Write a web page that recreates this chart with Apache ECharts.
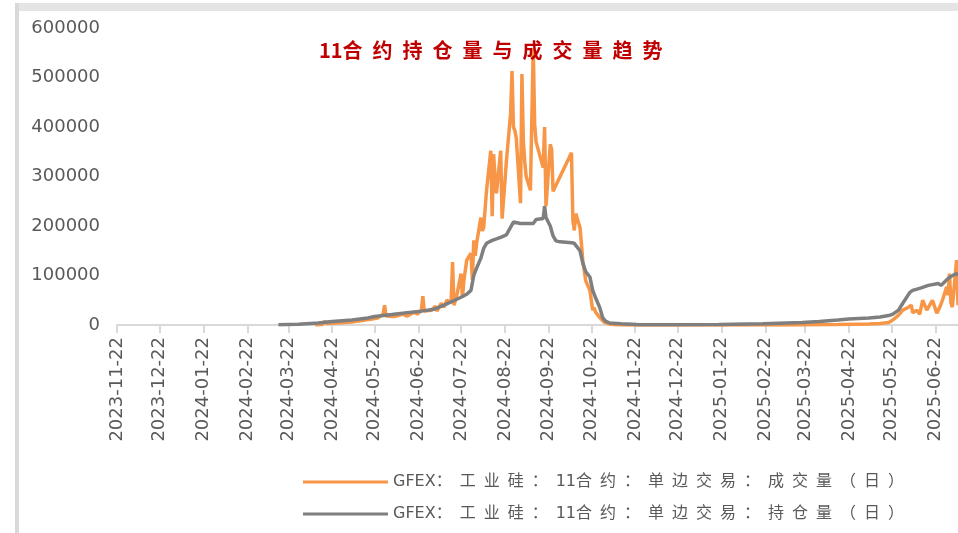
<!DOCTYPE html>
<html>
<head>
<meta charset="utf-8">
<script src="https://cdn.jsdelivr.net/npm/echarts@6/dist/echarts.min.js"></script>
<style>
  html, body { margin: 0; padding: 0; background: #fff; }
  #main { width: 958px; height: 533px; }
</style>
</head>
<body>
<div id="main"></div>
<script>
// 月度刻度（每月22日）
var tickDates = ['2023-11-22', '2023-12-22', '2024-01-22', '2024-02-22', '2024-03-22', '2024-04-22',
  '2024-05-22', '2024-06-22', '2024-07-22', '2024-08-22', '2024-09-22', '2024-10-22', '2024-11-22',
  '2024-12-22', '2025-01-22', '2025-02-22', '2025-03-22', '2025-04-22', '2025-05-22', '2025-06-22'];

var seriesNames = ['GFEX：工业硅：11合约：单边交易：成交量（日）', 'GFEX：工业硅：11合约：单边交易：持仓量（日）'];

// 成交量
var volDates = ['2024-04-10', '2024-04-15', '2024-04-17', '2024-04-18', '2024-04-25', '2024-05-06', '2024-05-13',
  '2024-05-20', '2024-05-24', '2024-05-28', '2024-05-29', '2024-05-30', '2024-06-05', '2024-06-11',
  '2024-06-14', '2024-06-19', '2024-06-21', '2024-06-24', '2024-06-25', '2024-06-26', '2024-07-01',
  '2024-07-04', '2024-07-05', '2024-07-08', '2024-07-10', '2024-07-12', '2024-07-15', '2024-07-16',
  '2024-07-17', '2024-07-18', '2024-07-19', '2024-07-22', '2024-07-23', '2024-07-24', '2024-07-25',
  '2024-07-26', '2024-07-29', '2024-07-30', '2024-07-31', '2024-08-01', '2024-08-02', '2024-08-05',
  '2024-08-06', '2024-08-07', '2024-08-08', '2024-08-09', '2024-08-12', '2024-08-13', '2024-08-14',
  '2024-08-15', '2024-08-16', '2024-08-19', '2024-08-20', '2024-08-21', '2024-08-22', '2024-08-23',
  '2024-08-26', '2024-08-27', '2024-08-28', '2024-08-29', '2024-08-30', '2024-09-02', '2024-09-03',
  '2024-09-04', '2024-09-05', '2024-09-06', '2024-09-09', '2024-09-10', '2024-09-11', '2024-09-12',
  '2024-09-13', '2024-09-18', '2024-09-19', '2024-09-20', '2024-09-23', '2024-09-24', '2024-09-25',
  '2024-09-26', '2024-10-08', '2024-10-09', '2024-10-10', '2024-10-11', '2024-10-14', '2024-10-15',
  '2024-10-16', '2024-10-17', '2024-10-18', '2024-10-21', '2024-10-22', '2024-10-23', '2024-10-24',
  '2024-10-25', '2024-10-28', '2024-10-31', '2024-11-04', '2024-11-08', '2024-11-15', '2025-01-15',
  '2025-03-14', '2025-04-14', '2025-05-06', '2025-05-14', '2025-05-20', '2025-05-23', '2025-05-27',
  '2025-05-30', '2025-06-03', '2025-06-05', '2025-06-06', '2025-06-09', '2025-06-11', '2025-06-13',
  '2025-06-16', '2025-06-17', '2025-06-19', '2025-06-20', '2025-06-23', '2025-06-25', '2025-06-27',
  '2025-06-30', '2025-07-01', '2025-07-02', '2025-07-03', '2025-07-04', '2025-07-07', '2025-07-08'];
var volValues = [0, 1000, 8000, 3000, 4000, 6000, 9000,
  12000, 14000, 22000, 40000, 18000, 17000, 22000,
  18000, 26000, 22000, 30000, 58000, 28000, 30000,
  38000, 28000, 44000, 36000, 50000, 45000, 127000,
  40000, 36000, 60000, 104000, 55000, 90000, 110000,
  131000, 145000, 91000, 171000, 140000, 165000, 217000,
  190000, 197000, 200000, 272000, 352000, 220000, 345000,
  300000, 266000, 352000, 215000, 211000, 290000, 330000,
  427000, 513000, 400000, 393000, 378000, 246000, 507000,
  372000, 330000, 300000, 272000, 272000, 560000, 406000,
  370000, 318000, 400000, 240000, 365000, 355000, 270000,
  268000, 348000, 211000, 191000, 225000, 197000, 165000,
  130000, 111000, 90000, 70000, 50000, 30000, 35000,
  26000, 15000, 6000, 2000, 500, 0, 0,
  0, 1000, 2000, 3000, 5000, 10000, 20000,
  30000, 36000, 40000, 25000, 30000, 22000, 50000,
  30000, 26000, 45000, 50000, 24000, 35000, 50000,
  77000, 60000, 104000, 45000, 36000, 131000, 40000];

// 持仓量
var oiDates = ['2024-03-15', '2024-03-29', '2024-04-12', '2024-04-22', '2024-05-06', '2024-05-17', '2024-05-22',
  '2024-06-03', '2024-06-14', '2024-06-24', '2024-07-03', '2024-07-10', '2024-07-16', '2024-07-22',
  '2024-07-26', '2024-07-29', '2024-07-30', '2024-07-31', '2024-08-01', '2024-08-02', '2024-08-05',
  '2024-08-06', '2024-08-07', '2024-08-08', '2024-08-09', '2024-08-13', '2024-08-19', '2024-08-23',
  '2024-08-28', '2024-09-02', '2024-09-06', '2024-09-11', '2024-09-13', '2024-09-18', '2024-09-19',
  '2024-09-20', '2024-09-23', '2024-09-25', '2024-09-27', '2024-09-30', '2024-10-08', '2024-10-10',
  '2024-10-14', '2024-10-16', '2024-10-18', '2024-10-21', '2024-10-23', '2024-10-25', '2024-10-28',
  '2024-10-30', '2024-11-01', '2024-11-04', '2024-11-12', '2024-11-20', '2024-11-25', '2024-12-20',
  '2025-01-20', '2025-02-20', '2025-03-20', '2025-04-01', '2025-04-14', '2025-04-22', '2025-05-06',
  '2025-05-14', '2025-05-20', '2025-05-23', '2025-05-27', '2025-05-30', '2025-06-04', '2025-06-06',
  '2025-06-12', '2025-06-17', '2025-06-24', '2025-06-26', '2025-06-27', '2025-07-01', '2025-07-03',
  '2025-07-07', '2025-07-08'];
var oiValues = [500, 1500, 4000, 7000, 10000, 14000, 17000,
  21000, 25000, 28000, 32000, 40000, 48000, 56000,
  62000, 70000, 85000, 100000, 108000, 115000, 135000,
  145000, 155000, 160000, 165000, 171000, 177000, 182000,
  208000, 205000, 205000, 205000, 213000, 215000, 240000,
  217000, 200000, 180000, 170000, 168000, 166000, 165000,
  150000, 125000, 108000, 97000, 70000, 55000, 35000,
  15000, 8000, 4000, 2500, 1500, 300, 500,
  1200, 2500, 5000, 7000, 10000, 12000, 14000,
  16000, 19000, 22000, 30000, 44000, 66000, 70000,
  75000, 80000, 84000, 80000, 77000, 94000, 98000,
  104000, 100000];

function pad(n) { return n < 10 ? '0' + n : '' + n; }
function toTime(s) {
  var p = s.split('-');
  return new Date(+p[0], +p[1] - 1, +p[2]).getTime();
}
function zip(dates, vals) {
  return dates.map(function (d, i) { return [toTime(d), vals[i]]; });
}
// 拉开中文字间距
function spread(s, sp) {
  return s.replace(/([^\x00-\x7f])/g, '$1' + sp);
}

var tickValues = tickDates.map(toTime);

var myChart = echarts.init(document.getElementById('main'));
var option = {
  animation: false,
  backgroundColor: '#ffffff',
  title: {
    text: spread('11合约持仓量与成交量趋势', '\u2002').trim(),
    left: 314,
    top: 35,
    textStyle: {
      fontFamily: 'Noto Sans CJK SC',
      fontWeight: 'bold',
      fontSize: 20,
      color: '#c00000'
    }
  },
  graphic: [
    { type: 'rect', shape: { x: 15, y: 3, width: 943, height: 8 }, style: { fill: '#e4e4e4' } },
    { type: 'rect', shape: { x: 15, y: 3, width: 4, height: 530 }, style: { fill: '#d9d9d9' } }
  ],
  legend: {
    orient: 'vertical',
    left: 298,
    top: 469,
    icon: 'rect',
    itemWidth: 85,
    itemHeight: 3,
    itemGap: 16,
    data: seriesNames,
    formatter: function (name) { return spread(name, '\u2002'); },
    textStyle: {
      fontFamily: 'DejaVu Sans, Noto Sans CJK SC',
      fontSize: 16,
      color: '#595959'
    }
  },
  grid: {
    left: 117,
    right: 0,
    top: 28,
    bottom: 208
  },
  xAxis: {
    type: 'value',
    min: toTime('2023-11-22'),
    max: toTime('2025-07-08'),
    splitLine: { show: false },
    axisLine: { lineStyle: { color: '#d9d9d9', width: 2 } },
    axisTick: {
      customValues: tickValues,
      length: 8,
      lineStyle: { color: '#d9d9d9', width: 2 }
    },
    axisLabel: {
      customValues: tickValues,
      rotate: 90,
      margin: 12,
      fontFamily: 'DejaVu Sans',
      fontSize: 18,
      color: '#595959',
      formatter: function (v) {
        var d = new Date(v);
        return d.getFullYear() + '-' + pad(d.getMonth() + 1) + '-' + pad(d.getDate());
      }
    }
  },
  yAxis: {
    type: 'value',
    min: 0,
    max: 600000,
    interval: 100000,
    splitLine: { show: false },
    axisLine: { show: false },
    axisTick: { show: false },
    axisLabel: {
      margin: 17,
      fontFamily: 'DejaVu Sans',
      fontSize: 18,
      color: '#595959',
      formatter: function (v) { return String(v); }
    }
  },
  series: [
    {
      name: seriesNames[0],
      type: 'line',
      symbol: 'none',
      lineStyle: { color: '#f79646', width: 3.5 },
      itemStyle: { color: '#f79646' },
      data: zip(volDates, volValues)
    },
    {
      name: seriesNames[1],
      type: 'line',
      symbol: 'none',
      lineStyle: { color: '#7f7f7f', width: 3.5 },
      itemStyle: { color: '#7f7f7f' },
      data: zip(oiDates, oiValues)
    }
  ]
};
myChart.setOption(option);
</script>
</body>
</html>
